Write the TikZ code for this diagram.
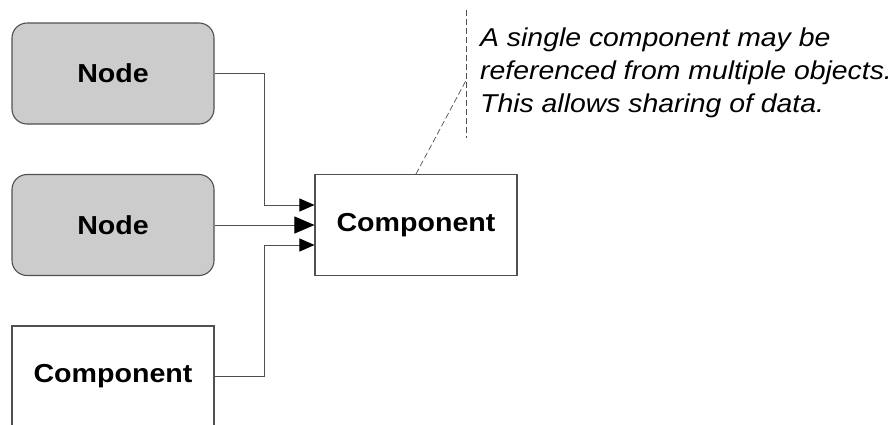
\documentclass[tikz,border=0pt]{standalone}
\usepackage{fontspec}
\usepackage{tikz}
\usetikzlibrary{arrows.meta,positioning,calc}
\newfontfamily\diagfont[FakeStretch=1.1]{Liberation Sans}
\definecolor{BoxGray}{RGB}{204, 204, 204}
\definecolor{EdgeGray}{RGB}{80, 80, 80}

\begin{document}
\begin{tikzpicture}[x=1pt, y=-1pt,
    objbox/.style={draw=EdgeGray, line width=1.1pt, minimum width=202pt, minimum height=101pt,
      inner sep=0pt, font=\diagfont\fontsize{26}{30}\selectfont\bfseries},
    nodebox/.style={objbox, fill=BoxGray, rounded corners=15pt},
    compbox/.style={objbox, fill=white},
    link/.style={draw=EdgeGray, line width=0.9pt},
    smalltip/.style={-{Triangle[length=15pt, width=13pt, color=black]}},
    bigtip/.style={-{Triangle[length=20pt, width=17pt, color=black]}},
    note/.style={draw=EdgeGray, line width=0.7pt, dash pattern=on 6pt off 3pt}]
    \clip (0,0) rectangle (893,424);

    % Objects
    \node[nodebox] (node1) at (113, 73.5) {Node};
    \node[nodebox] (node2) at (113, 225) {Node};
    \node[compbox] (comp1) at (113, 376.5) {Component};
    \node[compbox] (comp2) at (416, 225) {Component};

    % References
    \draw[link, smalltip] (node1.east) -- ++(50,0) |- ([yshift=20pt]comp2.west);
    \draw[link, bigtip] (node2.east) -- (comp2.west);
    \draw[link, smalltip] (comp1.east) -- ++(50,0) |- ([yshift=-20pt]comp2.west);

    % Annotation
    \coordinate (brtop) at (466, 10);
    \coordinate (brbot) at (466, 138);
    \draw[note] (brtop) -- (brbot);
    \draw[note] (comp2.north) -- ($(brtop)!0.55!(brbot)$);
    \node[anchor=base west, align=left, inner sep=0pt,
      font=\diagfont\fontsize{25.8}{33}\selectfont\itshape] (remark) at (480, 112)
      {A single component may be\\referenced from multiple objects.\\This allows sharing of data.};
\end{tikzpicture}
\end{document}
